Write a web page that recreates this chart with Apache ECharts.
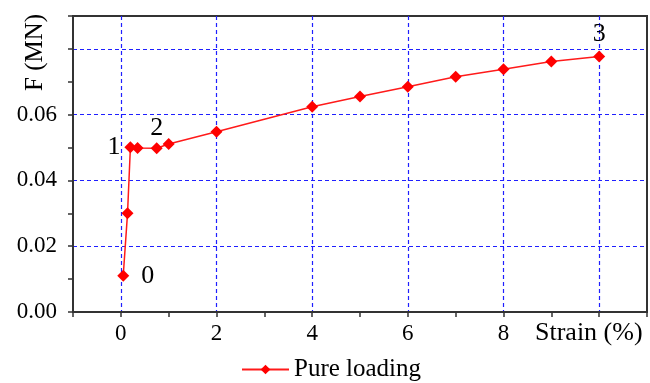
<!DOCTYPE html>
<html>
<head>
<meta charset="utf-8">
<script src="https://cdn.jsdelivr.net/npm/echarts@6/dist/echarts.min.js"></script>
<style>
  html, body { margin: 0; padding: 0; background: #fff; }
  #chart { width: 650px; height: 383px; }
</style>
</head>
<body>
<div id="chart"></div>
<script>
// strain (%) vs force (MN)
const strain = [0.05, 0.14, 0.2, 0.35, 0.75, 1.0, 2, 4, 5, 6, 7, 8, 9, 10]
const force = [0.011, 0.030, 0.0501, 0.0499, 0.0498, 0.0511, 0.0548, 0.0624, 0.0655, 0.0685, 0.0715, 0.0738, 0.0762, 0.0777]
// stage markers drawn next to some points
const stageNames = ['0', '', '1', '', '2', '', '', '', '', '', '', '', '', '3']
const xLabels = ['0', '2', '4', '6', '8']
const yLabels = ['0.00', '0.02', '0.04', '0.06']

const font = 'Liberation Serif'
const axisColor = '#333'
const gridBlue = '#1f1fff'
const stagePos = { '0': ['right', 12], '1': ['left', 4], '2': ['top', 1], '3': ['top', 3] }

const data = strain.map((x, i) => {
  const item = { value: [x, force[i]] }
  const name = stageNames[i]
  if (name) {
    item.label = {
      show: true,
      formatter: name,
      position: stagePos[name][0],
      distance: stagePos[name][1],
      fontFamily: font,
      fontSize: 26,
      color: '#000'
    }
  }
  return item
})

const chart = echarts.init(document.getElementById('chart'))

const option = {
  animation: false,
  // frame on left, top and bottom; the right edge falls just off the canvas
  grid: {
    left: 73, right: -2, top: 16, bottom: 71,
    show: true,
    borderColor: axisColor,
    borderWidth: 2
  },
  legend: {
    data: ['Pure loading'],
    left: 236,
    top: 352,
    itemWidth: 47,
    itemHeight: 12,
    itemGap: 6,
    textStyle: { fontFamily: font, fontSize: 25, color: '#000' }
  },
  xAxis: {
    type: 'value',
    min: -1,
    max: 11,
    interval: 1,
    axisLine: { onZero: false, lineStyle: { color: axisColor, width: 2 } },
    axisTick: { length: 5, lineStyle: { color: axisColor, width: 1.5 } },
    axisLabel: {
      margin: 10,
      fontFamily: font,
      fontSize: 23,
      color: '#000',
      formatter: v => (xLabels.includes(String(v)) ? String(v) : '')
    },
    splitLine: {
      show: true,
      lineStyle: { color: ['rgba(0,0,0,0)', gridBlue], type: [4, 3], width: 1.2 }
    }
  },
  yAxis: {
    type: 'value',
    min: 0,
    max: 0.09,
    interval: 0.01,
    axisLine: { show: true, onZero: false, lineStyle: { color: axisColor, width: 2 } },
    axisTick: { show: true, length: 5, lineStyle: { color: axisColor, width: 1.5 } },
    axisLabel: {
      margin: 16,
      fontFamily: font,
      fontSize: 23,
      color: '#000',
      formatter: v => {
        const s = v.toFixed(2)
        return yLabels.includes(s) && Math.abs(v - Number(s)) < 1e-9 ? s : ''
      }
    },
    splitLine: {
      show: true,
      lineStyle: { color: [gridBlue, 'rgba(0,0,0,0)'], type: [4, 3], width: 1.2 }
    }
  },
  graphic: [
    {
      type: 'text',
      x: 23,
      y: 91,
      rotation: Math.PI / 2,
      style: { text: 'F (MN)', fontFamily: font, fontSize: 25, fill: '#000' }
    },
    {
      type: 'text',
      x: 535,
      y: 320,
      style: { text: 'Strain (%)', fontFamily: font, fontSize: 26, fill: '#000' }
    }
  ],
  series: [
    {
      name: 'Pure loading',
      type: 'line',
      data: data,
      symbol: 'diamond',
      symbolSize: 12,
      lineStyle: { color: '#ff1a1a', width: 1.5 },
      itemStyle: { color: '#ff0000' }
    }
  ]
}

chart.setOption(option)
window.addEventListener('resize', () => chart.resize())
</script>
</body>
</html>
